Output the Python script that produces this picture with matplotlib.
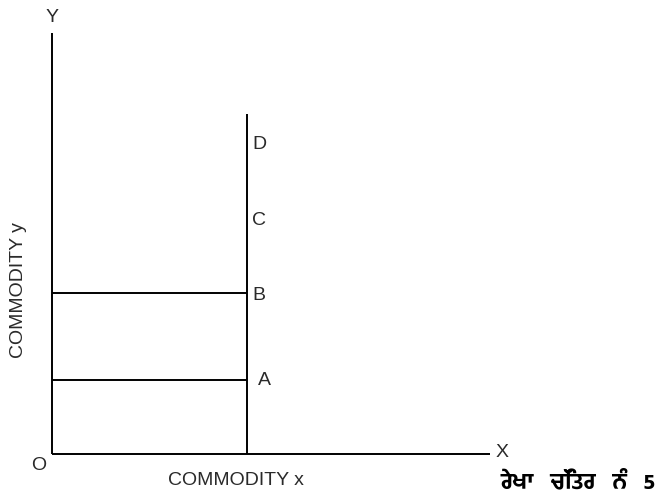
import matplotlib
matplotlib.use("Agg")
import matplotlib.pyplot as plt

# Chart values (origin at O; units ~ pixels of reference)
x_axis_end = 438
y_axis_top = 421
x_point = 195                  # quantity of commodity x
level_labels = ["A", "B", "C", "D"]
level_values = [74, 161, 236, 312]
vertical_top = 340
horizontal_levels = ["A", "B"]  # levels that get a horizontal line

x_label = "COMMODITY x"
y_label = "COMMODITY y"
caption = "ਰੇਖਾ   ਚਿੱਤਰ   ਨੰ   5"

plt.rcParams['font.family'] = ['Liberation Sans', 'DejaVu Sans']

fig = plt.figure(figsize=(6.69, 4.98), dpi=100)
ax = fig.add_axes([0, 0, 1, 1])
ax.set_xlim(-52, 617)
ax.set_ylim(-44, 454)
ax.axis('off')

lw = 1.4
ax.plot([0, x_axis_end], [0, 0], color='black', lw=lw, solid_capstyle='butt')
ax.plot([0, 0], [0, y_axis_top], color='black', lw=lw, solid_capstyle='butt')
ax.plot([x_point, x_point], [0, vertical_top], color='black', lw=lw, solid_capstyle='butt')
for lab, val in zip(level_labels, level_values):
    if lab in horizontal_levels:
        ax.plot([0, x_point], [val, val], color='black', lw=lw, solid_capstyle='butt')

fs = 14
tc = '#2a2a2a'
for lab, val in zip(level_labels, level_values):
    dx = 17 if lab == "A" else 12
    dy = 0 if lab == "A" else -2
    ax.text(x_point + dx, val + dy, lab, fontsize=fs, ha='center', va='center', color=tc)

ax.text(0, 437, "Y", fontsize=fs, ha='center', va='center', color=tc)
ax.text(x_axis_end + 12, 2, "X", fontsize=fs, ha='center', va='center', color=tc)
ax.text(-13, -11, "O", fontsize=fs, ha='center', va='center', color=tc)
ax.text(184, -26, x_label, fontsize=fs, ha='center', va='center', color=tc)
ax.text(-34, 164, y_label, fontsize=fs, ha='center', va='center', rotation=90, color=tc)
ax.text(448, -28, caption, fontsize=16, ha='left', va='center', fontweight='bold',
        family=['Hind Jalandhar', 'DejaVu Sans'])

fig.savefig("out.png", dpi=100)
